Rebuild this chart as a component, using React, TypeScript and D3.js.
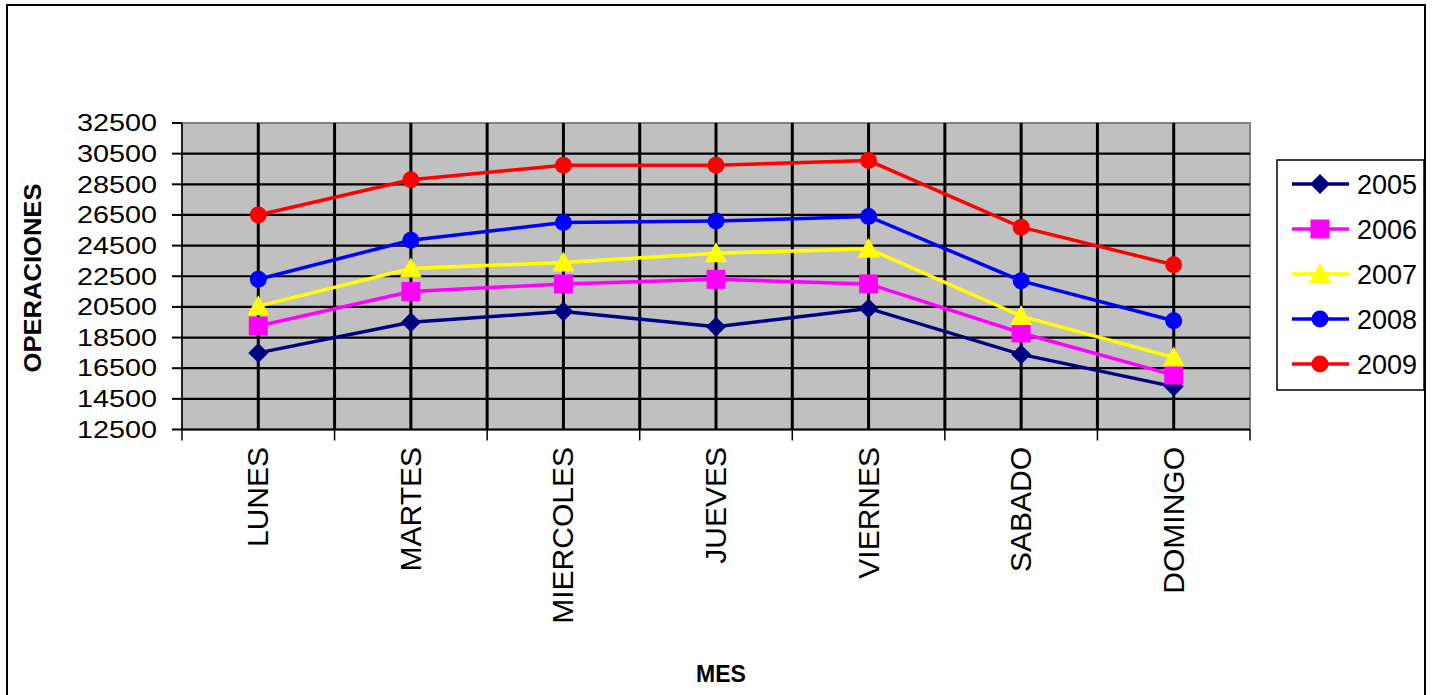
import React from "react";
import * as d3 from "d3";

const categories = ["LUNES", "MARTES", "MIERCOLES", "JUEVES", "VIERNES", "SABADO", "DOMINGO"];
const years = ["2005", "2006", "2007", "2008", "2009"];
const s2005 = [17500, 19500, 20200, 19200, 20400, 17400, 15300];
const s2006 = [19250, 21500, 22000, 22300, 22000, 18800, 16050];
const s2007 = [20550, 23000, 23400, 24000, 24300, 19900, 17200];
const s2008 = [22300, 24850, 26000, 26100, 26400, 22200, 19600];
const s2009 = [26500, 28800, 29750, 29750, 30050, 25700, 23250];
const yTicks = [12500, 14500, 16500, 18500, 20500, 22500, 24500, 26500, 28500, 30500, 32500];
const colors = ["#000080", "#FF00FF", "#FFFF00", "#0000FF", "#FF0000"];
const markers = ["diamond", "square", "triangle", "circle", "circle"];

const seriesList = [s2005, s2006, s2007, s2008, s2009];

const W = 1433;
const H = 695;
const plot = { left: 182, right: 1250, top: 123, bottom: 429.5 };

function Marker({ type, x, y, color }: { type: string; x: number; y: number; color: string }) {
  if (type === "diamond") {
    const r = 10;
    return <path d={`M${x},${y - r}L${x + r},${y}L${x},${y + r}L${x - r},${y}Z`} fill={color} />;
  }
  if (type === "square") {
    return <rect x={x - 9.5} y={y - 9.5} width={19} height={19} fill={color} />;
  }
  if (type === "triangle") {
    return <path d={`M${x},${y - 11}L${x + 11},${y + 9}L${x - 11},${y + 9}Z`} fill={color} />;
  }
  return <circle cx={x} cy={y} r={8.5} fill={color} />;
}

export default function App() {
  const xBand = d3.scaleBand<string>().domain(categories).range([plot.left, plot.right]).padding(0);
  const xc = (c: string) => (xBand(c) as number) + xBand.bandwidth() / 2;
  const y = d3.scaleLinear().domain([12500, 32500]).range([plot.bottom, plot.top]);
  const line = d3
    .line<number>()
    .x((_, i) => xc(categories[i]))
    .y((d) => y(d));

  const boundaries = categories.map((c) => xBand(c) as number).concat([plot.right]);
  const centers = categories.map(xc);

  return (
    <svg width={W} height={H} style={{ position: "absolute", left: 0, top: 0, display: "block" }}
      fontFamily="Arial, 'Liberation Sans', sans-serif">
      <rect x={0} y={0} width={W} height={H} fill="#fff" />
      <rect x={7} y={5} width={1418} height={720} fill="#fff" stroke="#000" strokeWidth={2} />
      {/* plot area */}
      <rect x={plot.left} y={plot.top} width={plot.right - plot.left} height={plot.bottom - plot.top}
        fill="#C0C0C0" stroke="#808080" strokeWidth={2} />
      {/* horizontal gridlines */}
      {yTicks.slice(1, -1).map((t) => (
        <line key={"h" + t} x1={plot.left} x2={plot.right} y1={y(t)} y2={y(t)} stroke="#000" strokeWidth={2.2} />
      ))}
      {/* vertical gridlines */}
      {boundaries.slice(1, -1).concat(centers).map((bx, i) => (
        <line key={"v" + i} x1={bx} x2={bx} y1={plot.top} y2={plot.bottom} stroke="#000" strokeWidth={3} />
      ))}
      {/* axes */}
      <line x1={plot.left} x2={plot.left} y1={plot.top} y2={plot.bottom} stroke="#000" strokeWidth={1.5} />
      <line x1={plot.left} x2={plot.right} y1={plot.bottom} y2={plot.bottom} stroke="#000" strokeWidth={2} />
      {yTicks.map((t) => (
        <g key={"yt" + t}>
          <line x1={172} x2={plot.left} y1={y(t)} y2={y(t)} stroke="#000" strokeWidth={2} />
          <text x={157} y={y(t)} dy="0.36em" textAnchor="end" fontSize={23} textLength={80}
            lengthAdjust="spacingAndGlyphs" fill="#000">{t}</text>
        </g>
      ))}
      {boundaries.map((bx, i) => (
        <line key={"xt" + i} x1={bx} x2={bx} y1={plot.bottom} y2={plot.bottom + 11} stroke="#000" strokeWidth={1.5} />
      ))}
      {categories.map((c) => (
        <text key={"xl" + c} transform={`translate(${xc(c) + 10},447) rotate(-90)`} textAnchor="end"
          fontSize={30} fill="#000">{c}</text>
      ))}
      {/* series */}
      {seriesList.map((s, si) => (
        <path key={"l" + si} d={line(s) as string} fill="none" stroke={colors[si]} strokeWidth={3.5} />
      ))}
      {seriesList.map((s, si) => (
        <g key={"m" + si}>
          {s.map((v, i) => (
            <Marker key={i} type={markers[si]} x={xc(categories[i])} y={y(v)} color={colors[si]} />
          ))}
        </g>
      ))}
      {/* axis titles */}
      <text x={721} y={682} textAnchor="middle" fontSize={23} fontWeight="bold" fill="#000">MES</text>
      <text transform="translate(41,278) rotate(-90)" textAnchor="middle" fontSize={23} fontWeight="bold"
        textLength={189} lengthAdjust="spacingAndGlyphs" fill="#000">OPERACIONES</text>
      {/* legend */}
      <rect x={1277} y={160} width={147} height={230} fill="#fff" stroke="#000" strokeWidth={1.5} />
      {years.map((yr, i) => {
        const ly = 184 + i * 45;
        return (
          <g key={"lg" + yr}>
            <line x1={1292} x2={1349} y1={ly} y2={ly} stroke={colors[i]} strokeWidth={3.5} />
            <Marker type={markers[i]} x={1320} y={ly} color={colors[i]} />
            <text x={1357} y={ly} dy="0.36em" fontSize={27} fill="#000">{yr}</text>
          </g>
        );
      })}
    </svg>
  );
}
